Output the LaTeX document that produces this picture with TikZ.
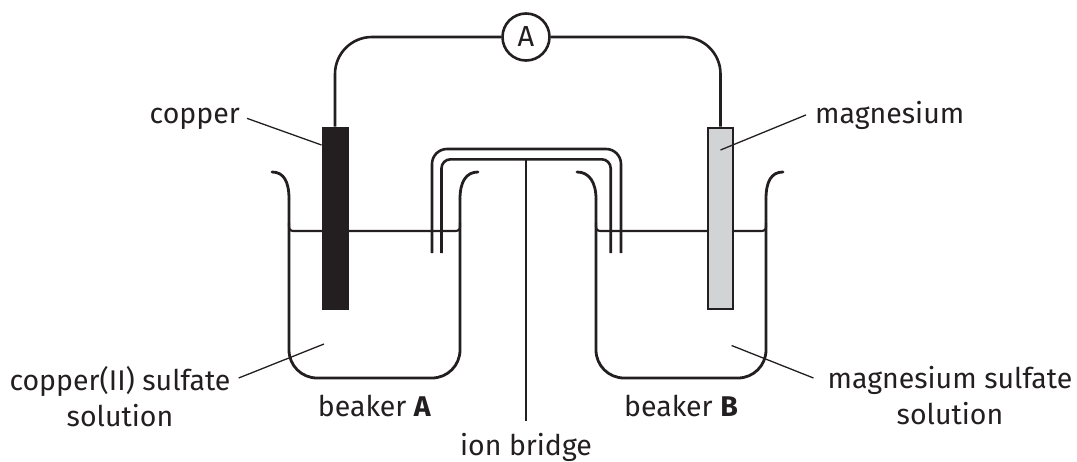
\documentclass[tikz,border=0pt]{standalone}
\usepackage{fontspec}
\setmainfont{Fira Sans}
\usepackage{tikz}
\usetikzlibrary{positioning}
\definecolor{ink}{HTML}{231F20}
\definecolor{mggrey}{HTML}{D1D3D4}
\tikzstyle{glass} = [draw=ink, line width=2.8pt, line cap=round]
\tikzstyle{liquid} = [draw=ink, line width=2.2pt]
\tikzstyle{wire} = [draw=ink, line width=2.6pt, rounded corners=37pt]
\tikzstyle{tube} = [draw=ink, line width=2.6pt]
\tikzstyle{leader} = [draw=ink, line width=1.3pt]
\tikzstyle{lbl} = [inner sep=0pt, font=\fontsize{28.5}{36}\selectfont, text=ink]
\tikzstyle{meter} = [circle, draw=ink, line width=2.6pt, fill=white, minimum size=47pt, inner sep=0pt, font=\fontsize{29}{30}\selectfont, text=ink]
\tikzstyle{cuplate} = [rectangle, draw=ink, fill=ink, line width=1pt, minimum width=26pt, minimum height=182pt, inner sep=0pt]
\tikzstyle{mgplate} = [rectangle, draw=ink, fill=mggrey, line width=2pt, minimum width=25pt, minimum height=181pt, inner sep=0pt]

\begin{document}
\begin{tikzpicture}[x=1pt, y=-1pt]
\useasboundingbox (0,0) rectangle (1077,461);

% beakers
\draw [glass] (272,172) .. controls (284,172) and (289,182) .. (289,199);
\draw [glass, rounded corners=28pt] (289,199) -- (289,378) -- (460,378) -- (460,199);
\draw [glass] (460,199) .. controls (460,182) and (466,172) .. (478,172);
\draw [glass] (577,172) .. controls (589,172) and (596,182) .. (596,199);
\draw [glass, rounded corners=28pt] (596,199) -- (596,378) -- (766,378) -- (766,199);
\draw [glass] (766,199) .. controls (766,182) and (771,172) .. (783,172);
\draw [liquid] (289,223) .. controls (289,231) .. (297,231) -- (452,231) .. controls (460,231) .. (460,223);
\draw [liquid] (596,223) .. controls (596,231) .. (604,231) -- (758,231) .. controls (766,231) .. (766,223);

% electrodes and meter
\node (cu) [cuplate] at (335,218) {};
\node (mg) [mgplate] at (720.5,218) {};
\node (amm) [meter] at (526,37) {A};

\draw [wire] (cu.north) |- (amm.west);
\draw [wire] (amm.east) -| (mg.north);

% ion bridge
\draw [tube, rounded corners=15pt] (432,253) -- (432,149) -- (621,149) -- (621,253);
\draw [tube, rounded corners=9pt] (441.5,253) -- (441.5,159.3) -- (610.7,159.3) -- (610.7,253);
\coordinate (bridgetop) at (526,159.3);
\coordinate (solApt) at (324,344);
\coordinate (solBpt) at (731.6,345.5);

% labels
\node (lblcu) [lbl, anchor=base east] at (240,123) {copper};
\node (lblmg) [lbl, anchor=base west] at (815,123) {magnesium};
\node (lblsolA) [lbl, align=center, anchor=north] at (120,366) {copper(II) sulfate\\solution};
\node (lblsolB) [lbl, align=center, anchor=north] at (950,366) {magnesium sulfate\\solution};
\node (lblA) [lbl, anchor=base] at (374.5,416) {beaker \textbf{A}};
\node (lblB) [lbl, anchor=base] at (681,416) {beaker \textbf{B}};
\node (lblion) [lbl, anchor=base] at (526,455) {ion bridge};

\draw [leader] ([xshift=7pt]lblcu.east) -- ([yshift=73pt]cu.west);
\draw [leader] ([xshift=-9pt]lblmg.west) -- ([yshift=68pt]mg.center);
\draw [leader] ([xshift=8pt,yshift=-12pt]lblsolA.north east) -- (solApt);
\draw [leader] ([xshift=-14pt,yshift=-12pt]lblsolB.north west) -- (solBpt);
\draw [leader] ([yshift=12pt]lblion.north) -- (bridgetop);

\end{tikzpicture}
\end{document}
